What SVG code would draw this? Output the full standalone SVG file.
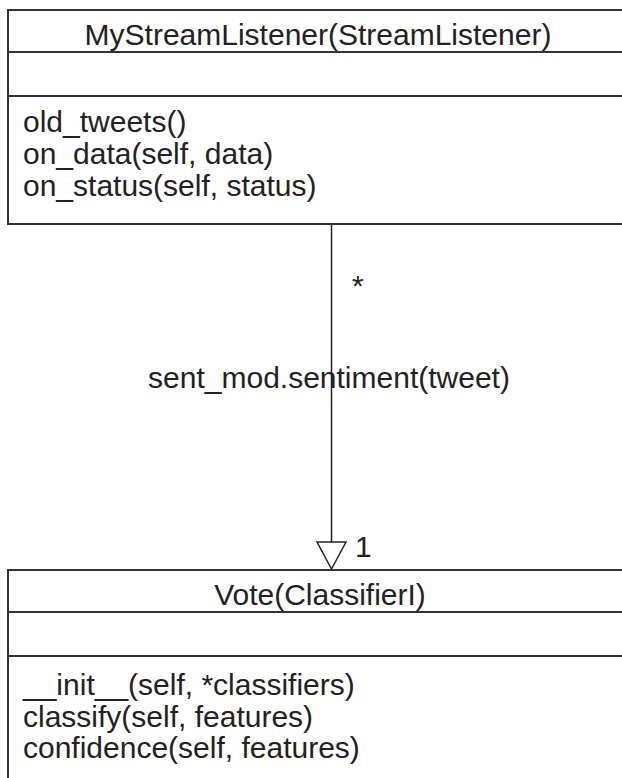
<svg xmlns="http://www.w3.org/2000/svg" width="622" height="778" viewBox="0 0 622 778">
<defs>
<style>
.box{fill:#fff;stroke:#333;stroke-width:2}
.div{stroke:#333;stroke-width:2}
.t{font-family:"Liberation Sans",Arial,sans-serif;font-size:30px;fill:#222}
.c{text-anchor:middle}
.edge{stroke:#222;stroke-width:1.5;fill:none}
.head{fill:#fff;stroke:#222;stroke-width:1.5}
</style>
</defs>
<rect width="622" height="778" fill="#fff"/>
<g id="connectors">
<line class="edge" x1="331.5" y1="224" x2="331.5" y2="542"/>
<polygon class="head" points="317,542 346,542 331.5,569"/>
<text class="t" x="352" y="296">*</text>
<text class="t c" x="329" y="388">sent_mod.sentiment(tweet)</text>
<text class="t" x="355" y="557">1</text>
</g>
<g id="MyStreamListener">
<rect class="box" x="8" y="10" width="620" height="214"/>
<line class="div" x1="8" y1="52" x2="628" y2="52"/>
<line class="div" x1="8" y1="96" x2="628" y2="96"/>
<text class="t c" x="318" y="45">MyStreamListener(StreamListener)</text>
<text class="t" x="23" y="132">old_tweets()</text>
<text class="t" x="23" y="164">on_data(self, data)</text>
<text class="t" x="23" y="196">on_status(self, status)</text>
</g>
<g id="Vote">
<rect class="box" x="8" y="570" width="620" height="230"/>
<line class="div" x1="8" y1="612" x2="628" y2="612"/>
<line class="div" x1="8" y1="656" x2="628" y2="656"/>
<text class="t c" x="320" y="605">Vote(ClassifierI)</text>
<text class="t" x="23" y="695">__init__(self, *classifiers)</text>
<text class="t" x="23" y="727">classify(self, features)</text>
<text class="t" x="23" y="758">confidence(self, features)</text>
</g>
</svg>
